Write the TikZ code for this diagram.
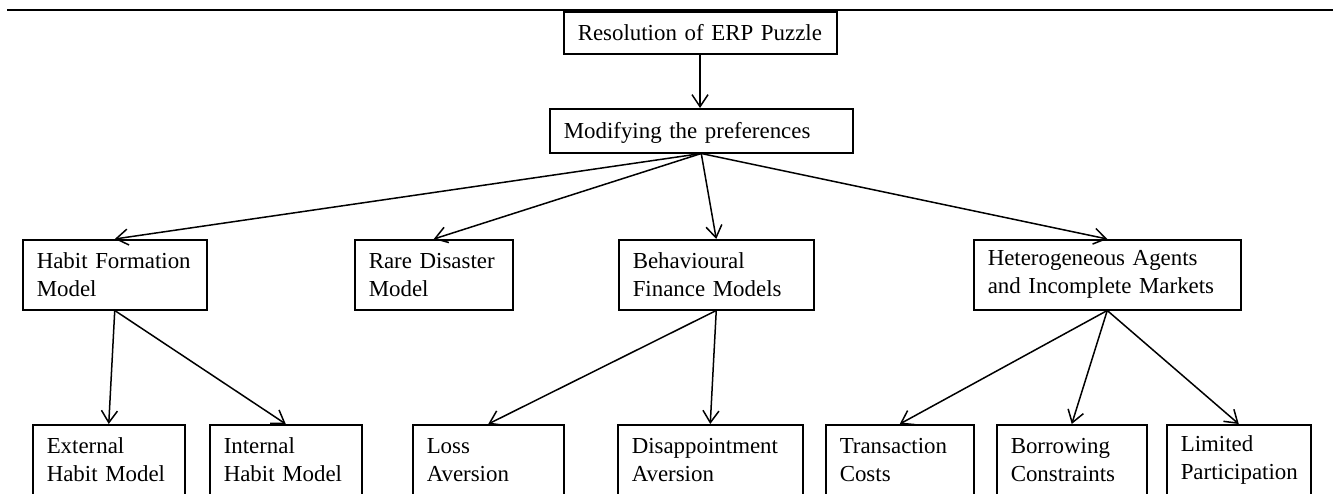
\documentclass[tikz,border=0pt]{standalone}
\usepackage{fontspec}
\setmainfont{Liberation Serif}
\usetikzlibrary{arrows.meta}

\begin{document}
\begin{tikzpicture}[x = 0.5pt, y = -0.5pt, >= {Straight Barb[length = 6pt, width = 8pt]},
  box/.style = {draw, line width = 0.75pt, anchor = north west, align = left,
    inner xsep = 7pt, inner ysep = 0pt, minimum height = 35pt,
    font = \fontsize{11.45}{14}\selectfont},
  link/.style = {->, line width = 0.75pt}]
	\useasboundingbox (0,0) rectangle (1333,493);
	\clip (0,0) rectangle (1333,493);
	\draw[line width = 1.1pt] (7,10) -- (1333,10);
	% top of the tree
	\node[box, minimum height = 21pt, text width = 122.5pt] (erp) at (563,11) {Resolution of ERP Puzzle};
	\node[box, minimum height = 22pt, text width = 137.5pt, text depth = 0pt] (pref) at (549,108) {Modifying the preferences};
	% middle row
	\node[box, text width = 78pt] (habit) at (22,239) {Habit Formation\\ Model};
	\node[box, text width = 65pt] (rare) at (354,239) {Rare Disaster\\ Model};
	\node[box, text width = 83.5pt] (behav) at (618,239) {Behavioural\\ Finance Models};
	\node[box, text width = 119.5pt] (hetero) at (973,239) {Heterogeneous Agents\\ and Incomplete Markets};
	% bottom row
	\node[box, text width = 62pt] (ext) at (32,424) {External\\ Habit Model};
	\node[box, text width = 62pt] (int) at (209,424) {Internal\\ Habit Model};
	\node[box, text width = 61.5pt] (loss) at (412,424) {Loss\\ Aversion};
	\node[box, text width = 78.5pt] (disap) at (617,424) {Disappointment\\ Aversion};
	\node[box, text width = 60pt] (trans) at (825,424) {Transaction\\ Costs};
	\node[box, text width = 61pt] (borrow) at (996,424) {Borrowing\\ Constraints};
	\node[box, text width = 58pt] (limit) at (1166,424) {Limited\\ Participation};
	\path[link] (erp.south -| 700,0) edge (pref.north -| 700,0);
	\path[link] (pref.south) edge (habit.north);
	\path[link] (pref.south) edge (rare.north);
	\path[link] (pref.south) edge (behav.north);
	\path[link] (pref.south) edge (hetero.north);
	\path[link] (habit.south) edge (ext.north);
	\path[link] (habit.south) edge (int.north);
	\path[link] (behav.south) edge (loss.north);
	\path[link] (behav.south) edge (disap.north);
	\path[link] (hetero.south) edge (trans.north);
	\path[link] (hetero.south) edge (borrow.north);
	\path[link] (hetero.south) edge (limit.north);
\end{tikzpicture}
\end{document}
